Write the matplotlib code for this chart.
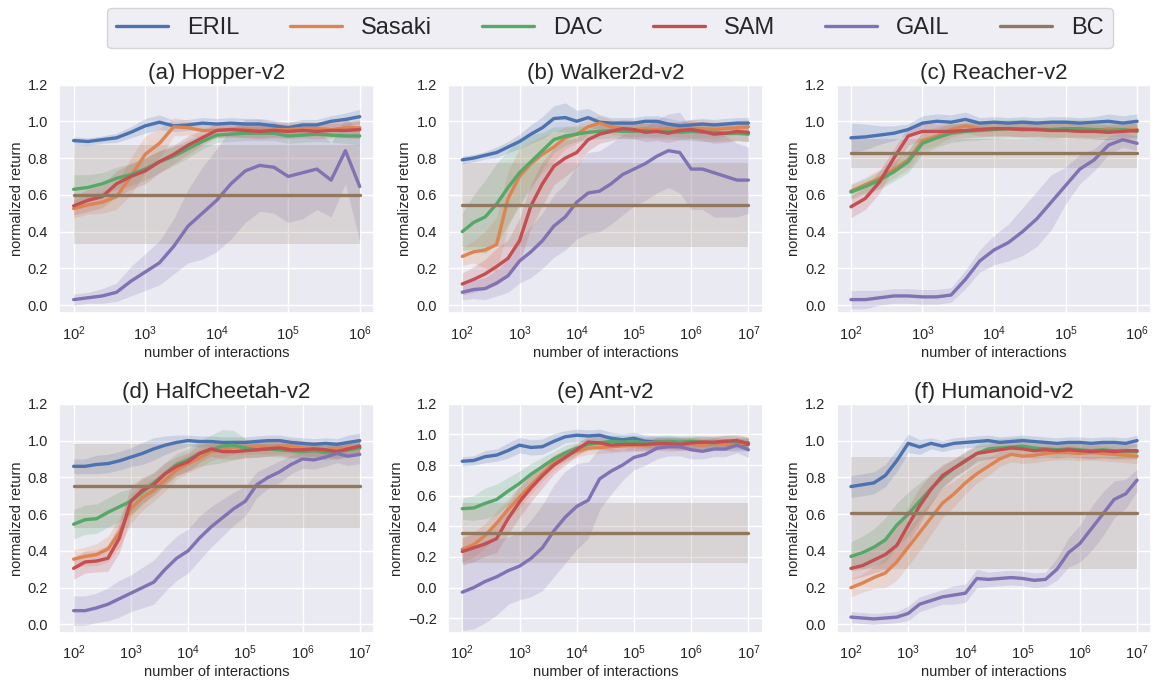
import numpy as np
import matplotlib
matplotlib.use('Agg')
import matplotlib.pyplot as plt
import seaborn as sns

sns.set_theme(style='darkgrid')
plt.rcParams['font.family'] = ['Liberation Sans', 'DejaVu Sans']

methods = ['ERIL', 'Sasaki', 'DAC', 'SAM', 'GAIL', 'BC']
colors = sns.color_palette('deep')[:6]
titles = ['(a) Hopper-v2', '(b) Walker2d-v2', '(c) Reacher-v2',
          '(d) HalfCheetah-v2', '(e) Ant-v2', '(f) Humanoid-v2']

# log10(number of interactions) of each sample
exp_short = np.round(np.arange(2.0, 6.01, 0.2), 1)   # 10^2 .. 10^6
exp_long = np.round(np.arange(2.0, 7.01, 0.2), 1)    # 10^2 .. 10^7

# ---- Hopper-v2 ----
hop_eril = [0.895, 0.89, 0.90, 0.91, 0.94, 0.975, 0.995, 0.975, 0.98, 0.99, 0.985, 0.99, 0.985, 0.985, 0.975, 0.965, 0.98, 0.98, 1.0, 1.01, 1.025]
hop_eril_sd = [0.02, 0.02, 0.02, 0.025, 0.03, 0.04, 0.04, 0.03, 0.03, 0.03, 0.03, 0.03, 0.03, 0.03, 0.03, 0.03, 0.03, 0.03, 0.03, 0.035, 0.04]
hop_sasaki = [0.525, 0.545, 0.56, 0.59, 0.70, 0.82, 0.88, 0.97, 0.965, 0.95, 0.95, 0.955, 0.955, 0.95, 0.955, 0.955, 0.96, 0.96, 0.955, 0.965, 0.965]
hop_sasaki_sd = [0.05, 0.05, 0.06, 0.07, 0.10, 0.10, 0.08, 0.05, 0.04, 0.04, 0.04, 0.04, 0.04, 0.04, 0.04, 0.04, 0.04, 0.04, 0.04, 0.04, 0.04]
hop_dac = [0.63, 0.64, 0.66, 0.69, 0.71, 0.74, 0.78, 0.81, 0.85, 0.89, 0.925, 0.93, 0.935, 0.935, 0.935, 0.92, 0.925, 0.93, 0.925, 0.92, 0.92]
hop_dac_sd = [0.08, 0.07, 0.06, 0.06, 0.06, 0.06, 0.06, 0.05, 0.05, 0.04, 0.04, 0.04, 0.04, 0.04, 0.04, 0.04, 0.04, 0.04, 0.04, 0.04, 0.05]
hop_sam = [0.54, 0.57, 0.59, 0.66, 0.70, 0.73, 0.78, 0.82, 0.87, 0.91, 0.95, 0.955, 0.95, 0.945, 0.95, 0.945, 0.95, 0.945, 0.95, 0.95, 0.955]
hop_sam_sd = [0.05, 0.06, 0.06, 0.07, 0.07, 0.07, 0.06, 0.05, 0.05, 0.04, 0.04, 0.04, 0.04, 0.04, 0.04, 0.04, 0.04, 0.04, 0.04, 0.04, 0.05]
hop_gail = [0.03, 0.04, 0.05, 0.07, 0.13, 0.18, 0.23, 0.32, 0.43, 0.50, 0.57, 0.66, 0.73, 0.76, 0.75, 0.70, 0.72, 0.74, 0.68, 0.84, 0.645]
hop_gail_sd = [0.03, 0.03, 0.04, 0.05, 0.08, 0.10, 0.12, 0.15, 0.20, 0.25, 0.28, 0.30, 0.28, 0.25, 0.25, 0.25, 0.25, 0.22, 0.20, 0.18, 0.30]
hop_bc, hop_bc_sd = 0.60, 0.27

# ---- Walker2d-v2 ----
wal_eril = [0.79, 0.80, 0.815, 0.83, 0.86, 0.89, 0.93, 0.965, 1.015, 1.02, 1.0, 1.02, 0.995, 0.99, 0.99, 0.99, 1.0, 1.0, 0.985, 0.975, 0.98, 0.985, 0.98, 0.985, 0.99, 0.99]
wal_eril_sd = [0.02, 0.02, 0.02, 0.03, 0.03, 0.04, 0.05, 0.06, 0.07, 0.08, 0.06, 0.05, 0.04, 0.03, 0.03, 0.03, 0.03, 0.03, 0.03, 0.03, 0.03, 0.03, 0.03, 0.03, 0.03, 0.03]
wal_sasaki = [0.265, 0.29, 0.30, 0.33, 0.58, 0.70, 0.77, 0.82, 0.86, 0.91, 0.93, 0.97, 0.99, 0.97, 0.96, 0.955, 0.96, 0.955, 0.96, 0.955, 0.96, 0.96, 0.955, 0.96, 0.965, 0.97]
wal_sasaki_sd = [0.05, 0.06, 0.10, 0.15, 0.15, 0.15, 0.12, 0.10, 0.08, 0.06, 0.05, 0.04, 0.04, 0.04, 0.04, 0.04, 0.04, 0.04, 0.04, 0.04, 0.05, 0.05, 0.05, 0.04, 0.04, 0.04]
wal_dac = [0.40, 0.45, 0.48, 0.55, 0.64, 0.72, 0.78, 0.84, 0.90, 0.92, 0.93, 0.94, 0.945, 0.95, 0.945, 0.945, 0.95, 0.945, 0.945, 0.94, 0.945, 0.94, 0.94, 0.935, 0.935, 0.93]
wal_dac_sd = [0.10, 0.15, 0.20, 0.22, 0.20, 0.18, 0.15, 0.10, 0.07, 0.05, 0.04, 0.04, 0.04, 0.04, 0.04, 0.04, 0.04, 0.04, 0.04, 0.04, 0.05, 0.05, 0.05, 0.04, 0.04, 0.04]
wal_sam = [0.115, 0.14, 0.17, 0.21, 0.255, 0.35, 0.54, 0.66, 0.755, 0.80, 0.83, 0.90, 0.93, 0.945, 0.96, 0.955, 0.94, 0.945, 0.935, 0.95, 0.955, 0.945, 0.93, 0.935, 0.945, 0.94]
wal_sam_sd = [0.06, 0.07, 0.08, 0.10, 0.10, 0.12, 0.12, 0.12, 0.10, 0.10, 0.08, 0.06, 0.05, 0.05, 0.05, 0.05, 0.05, 0.05, 0.05, 0.05, 0.05, 0.05, 0.05, 0.05, 0.05, 0.05]
wal_gail = [0.07, 0.085, 0.09, 0.12, 0.16, 0.24, 0.29, 0.35, 0.43, 0.48, 0.56, 0.61, 0.62, 0.66, 0.71, 0.74, 0.77, 0.81, 0.84, 0.83, 0.74, 0.74, 0.72, 0.70, 0.68, 0.68]
wal_gail_sd = [0.04, 0.05, 0.06, 0.07, 0.09, 0.12, 0.14, 0.15, 0.17, 0.18, 0.20, 0.22, 0.22, 0.22, 0.22, 0.20, 0.20, 0.20, 0.20, 0.22, 0.22, 0.22, 0.24, 0.22, 0.20, 0.18]
wal_bc, wal_bc_sd = 0.545, 0.23

# ---- Reacher-v2 ----
rea_eril = [0.91, 0.915, 0.925, 0.935, 0.955, 0.99, 1.0, 0.995, 1.01, 0.99, 0.995, 0.99, 0.995, 0.99, 0.995, 0.995, 0.99, 0.995, 1.0, 0.99, 1.0]
rea_eril_sd = [0.08, 0.07, 0.05, 0.04, 0.03, 0.04, 0.04, 0.04, 0.04, 0.03, 0.03, 0.03, 0.03, 0.03, 0.03, 0.03, 0.03, 0.03, 0.04, 0.04, 0.04]
rea_sasaki = [0.62, 0.655, 0.69, 0.74, 0.79, 0.895, 0.92, 0.955, 0.975, 0.96, 0.96, 0.96, 0.955, 0.96, 0.955, 0.955, 0.955, 0.95, 0.96, 0.955, 0.955]
rea_sasaki_sd = [0.04, 0.04, 0.05, 0.05, 0.05, 0.05, 0.05, 0.04, 0.04, 0.04, 0.04, 0.04, 0.04, 0.04, 0.04, 0.04, 0.04, 0.04, 0.04, 0.04, 0.04]
rea_dac = [0.615, 0.645, 0.68, 0.725, 0.78, 0.88, 0.91, 0.935, 0.945, 0.95, 0.955, 0.96, 0.96, 0.955, 0.955, 0.96, 0.96, 0.955, 0.95, 0.955, 0.945]
rea_dac_sd = [0.04, 0.04, 0.05, 0.05, 0.06, 0.06, 0.05, 0.05, 0.05, 0.05, 0.05, 0.05, 0.05, 0.05, 0.05, 0.05, 0.05, 0.05, 0.05, 0.05, 0.04]
rea_sam = [0.535, 0.58, 0.67, 0.80, 0.92, 0.945, 0.945, 0.945, 0.95, 0.955, 0.96, 0.96, 0.955, 0.955, 0.95, 0.95, 0.945, 0.945, 0.94, 0.945, 0.95]
rea_sam_sd = [0.06, 0.06, 0.06, 0.05, 0.05, 0.05, 0.04, 0.04, 0.04, 0.04, 0.04, 0.04, 0.04, 0.04, 0.04, 0.04, 0.04, 0.04, 0.04, 0.04, 0.04]
rea_gail = [0.03, 0.03, 0.04, 0.05, 0.05, 0.045, 0.045, 0.055, 0.14, 0.24, 0.30, 0.34, 0.40, 0.47, 0.56, 0.65, 0.74, 0.79, 0.87, 0.90, 0.88]
rea_gail_sd = [0.05, 0.05, 0.04, 0.04, 0.04, 0.04, 0.04, 0.04, 0.05, 0.06, 0.08, 0.10, 0.13, 0.15, 0.15, 0.10, 0.08, 0.06, 0.05, 0.04, 0.04]
rea_bc, rea_bc_sd = 0.825, 0.08

# ---- HalfCheetah-v2 ----
hc_eril = [0.86, 0.86, 0.87, 0.875, 0.89, 0.91, 0.93, 0.955, 0.975, 0.99, 1.0, 0.995, 0.995, 0.99, 0.99, 0.99, 0.995, 1.0, 1.0, 0.99, 0.985, 0.98, 0.985, 0.98, 0.99, 1.0]
hc_eril_sd = [0.04, 0.04, 0.05, 0.05, 0.05, 0.05, 0.06, 0.06, 0.05, 0.04, 0.03, 0.03, 0.03, 0.03, 0.03, 0.03, 0.03, 0.03, 0.03, 0.03, 0.03, 0.03, 0.03, 0.03, 0.04, 0.04]
hc_sasaki = [0.355, 0.37, 0.38, 0.41, 0.50, 0.63, 0.69, 0.73, 0.785, 0.84, 0.875, 0.905, 0.94, 0.95, 0.965, 0.965, 0.97, 0.965, 0.97, 0.97, 0.96, 0.955, 0.95, 0.955, 0.96, 0.96]
hc_sasaki_sd = [0.05, 0.05, 0.06, 0.07, 0.08, 0.08, 0.07, 0.06, 0.06, 0.05, 0.05, 0.05, 0.05, 0.04, 0.04, 0.04, 0.04, 0.04, 0.04, 0.04, 0.04, 0.04, 0.04, 0.04, 0.04, 0.04]
hc_dac = [0.545, 0.57, 0.575, 0.61, 0.64, 0.67, 0.72, 0.77, 0.82, 0.87, 0.895, 0.93, 0.95, 0.97, 0.975, 0.96, 0.95, 0.955, 0.95, 0.945, 0.94, 0.945, 0.935, 0.94, 0.95, 0.96]
hc_dac_sd = [0.08, 0.08, 0.08, 0.08, 0.08, 0.07, 0.07, 0.06, 0.06, 0.06, 0.06, 0.07, 0.08, 0.09, 0.08, 0.05, 0.04, 0.04, 0.04, 0.04, 0.04, 0.04, 0.04, 0.04, 0.04, 0.04]
hc_sam = [0.305, 0.34, 0.345, 0.36, 0.47, 0.67, 0.73, 0.76, 0.82, 0.86, 0.885, 0.93, 0.955, 0.94, 0.94, 0.945, 0.95, 0.955, 0.96, 0.95, 0.95, 0.955, 0.95, 0.94, 0.955, 0.97]
hc_sam_sd = [0.06, 0.06, 0.06, 0.07, 0.08, 0.08, 0.07, 0.06, 0.06, 0.05, 0.05, 0.05, 0.04, 0.04, 0.04, 0.04, 0.04, 0.04, 0.04, 0.04, 0.04, 0.04, 0.04, 0.04, 0.04, 0.04]
hc_gail = [0.075, 0.075, 0.09, 0.11, 0.14, 0.17, 0.20, 0.23, 0.30, 0.36, 0.40, 0.47, 0.53, 0.58, 0.63, 0.67, 0.76, 0.80, 0.83, 0.87, 0.90, 0.895, 0.91, 0.93, 0.915, 0.925]
hc_gail_sd = [0.08, 0.08, 0.08, 0.09, 0.10, 0.10, 0.11, 0.12, 0.12, 0.12, 0.12, 0.12, 0.11, 0.10, 0.09, 0.08, 0.07, 0.06, 0.06, 0.05, 0.05, 0.05, 0.05, 0.05, 0.05, 0.05]
hc_bc, hc_bc_sd = 0.755, 0.228

# ---- Ant-v2 ----
ant_eril = [0.825, 0.83, 0.855, 0.865, 0.895, 0.93, 0.915, 0.92, 0.955, 0.985, 0.995, 0.99, 0.995, 0.975, 0.965, 0.975, 0.955, 0.95, 0.95, 0.945, 0.94, 0.935, 0.94, 0.935, 0.93, 0.935]
ant_eril_sd = [0.03, 0.03, 0.04, 0.04, 0.05, 0.05, 0.05, 0.05, 0.05, 0.04, 0.04, 0.04, 0.04, 0.04, 0.04, 0.04, 0.04, 0.04, 0.04, 0.04, 0.04, 0.04, 0.04, 0.04, 0.04, 0.04]
ant_sasaki = [0.25, 0.28, 0.34, 0.42, 0.51, 0.59, 0.67, 0.745, 0.815, 0.86, 0.89, 0.91, 0.915, 0.92, 0.925, 0.93, 0.93, 0.935, 0.93, 0.935, 0.935, 0.93, 0.935, 0.935, 0.94, 0.94]
ant_sasaki_sd = [0.08, 0.08, 0.08, 0.08, 0.07, 0.07, 0.06, 0.05, 0.05, 0.04, 0.04, 0.04, 0.04, 0.04, 0.04, 0.04, 0.04, 0.04, 0.04, 0.04, 0.04, 0.04, 0.04, 0.04, 0.04, 0.04]
ant_dac = [0.515, 0.52, 0.55, 0.575, 0.63, 0.68, 0.74, 0.79, 0.84, 0.88, 0.91, 0.935, 0.945, 0.955, 0.95, 0.955, 0.945, 0.95, 0.955, 0.95, 0.955, 0.95, 0.945, 0.955, 0.95, 0.945]
ant_dac_sd = [0.07, 0.08, 0.10, 0.10, 0.09, 0.08, 0.07, 0.06, 0.05, 0.05, 0.04, 0.04, 0.04, 0.04, 0.04, 0.04, 0.04, 0.04, 0.04, 0.04, 0.04, 0.04, 0.04, 0.04, 0.04, 0.04]
ant_sam = [0.235, 0.26, 0.285, 0.32, 0.45, 0.56, 0.65, 0.73, 0.80, 0.85, 0.90, 0.95, 0.945, 0.93, 0.935, 0.935, 0.935, 0.94, 0.94, 0.935, 0.945, 0.95, 0.95, 0.955, 0.96, 0.94]
ant_sam_sd = [0.09, 0.09, 0.08, 0.09, 0.10, 0.10, 0.09, 0.08, 0.06, 0.05, 0.04, 0.04, 0.04, 0.04, 0.04, 0.04, 0.04, 0.04, 0.04, 0.04, 0.04, 0.04, 0.04, 0.04, 0.04, 0.04]
ant_gail = [-0.03, 0.0, 0.04, 0.07, 0.11, 0.14, 0.19, 0.26, 0.37, 0.46, 0.53, 0.57, 0.71, 0.76, 0.80, 0.85, 0.87, 0.91, 0.92, 0.92, 0.90, 0.89, 0.905, 0.905, 0.93, 0.90]
ant_gail_sd = [0.25, 0.27, 0.27, 0.25, 0.22, 0.22, 0.25, 0.28, 0.30, 0.30, 0.28, 0.25, 0.20, 0.15, 0.10, 0.08, 0.07, 0.07, 0.06, 0.06, 0.06, 0.05, 0.05, 0.05, 0.05, 0.05]
ant_bc, ant_bc_sd = 0.355, 0.195

# ---- Humanoid-v2 ----
hum_eril = [0.75, 0.76, 0.77, 0.81, 0.89, 0.985, 0.965, 0.985, 0.97, 0.985, 0.99, 0.995, 1.0, 0.99, 0.995, 1.0, 0.995, 0.99, 0.985, 0.99, 0.99, 0.985, 0.99, 0.99, 0.985, 1.0]
hum_eril_sd = [0.06, 0.06, 0.06, 0.06, 0.06, 0.05, 0.04, 0.03, 0.03, 0.03, 0.03, 0.03, 0.03, 0.03, 0.03, 0.03, 0.03, 0.03, 0.03, 0.03, 0.03, 0.03, 0.03, 0.03, 0.03, 0.03]
hum_sasaki = [0.20, 0.225, 0.255, 0.28, 0.34, 0.42, 0.50, 0.58, 0.66, 0.71, 0.77, 0.82, 0.86, 0.90, 0.925, 0.915, 0.92, 0.93, 0.935, 0.935, 0.93, 0.935, 0.93, 0.925, 0.92, 0.915]
hum_sasaki_sd = [0.05, 0.05, 0.06, 0.08, 0.10, 0.10, 0.10, 0.09, 0.08, 0.07, 0.06, 0.05, 0.05, 0.04, 0.04, 0.04, 0.04, 0.04, 0.04, 0.04, 0.04, 0.04, 0.04, 0.04, 0.04, 0.04]
hum_dac = [0.37, 0.39, 0.42, 0.46, 0.54, 0.60, 0.67, 0.74, 0.80, 0.85, 0.89, 0.93, 0.955, 0.96, 0.965, 0.97, 0.96, 0.955, 0.95, 0.955, 0.95, 0.945, 0.95, 0.945, 0.94, 0.94]
hum_dac_sd = [0.08, 0.09, 0.10, 0.12, 0.12, 0.12, 0.10, 0.08, 0.06, 0.05, 0.05, 0.05, 0.05, 0.05, 0.05, 0.05, 0.04, 0.04, 0.04, 0.04, 0.04, 0.04, 0.04, 0.04, 0.04, 0.04]
hum_sam = [0.305, 0.32, 0.35, 0.38, 0.43, 0.54, 0.645, 0.735, 0.81, 0.85, 0.89, 0.93, 0.94, 0.95, 0.96, 0.955, 0.945, 0.95, 0.945, 0.95, 0.945, 0.94, 0.945, 0.94, 0.945, 0.945]
hum_sam_sd = [0.06, 0.06, 0.07, 0.08, 0.10, 0.10, 0.10, 0.08, 0.06, 0.05, 0.05, 0.04, 0.04, 0.04, 0.04, 0.04, 0.04, 0.04, 0.04, 0.04, 0.04, 0.04, 0.04, 0.04, 0.04, 0.04]
hum_gail = [0.04, 0.035, 0.03, 0.035, 0.04, 0.06, 0.11, 0.13, 0.15, 0.16, 0.17, 0.25, 0.245, 0.25, 0.255, 0.25, 0.24, 0.245, 0.30, 0.39, 0.44, 0.52, 0.60, 0.68, 0.71, 0.785]
hum_gail_sd = [0.03, 0.03, 0.03, 0.03, 0.03, 0.04, 0.04, 0.04, 0.04, 0.05, 0.05, 0.05, 0.04, 0.04, 0.04, 0.04, 0.04, 0.04, 0.06, 0.08, 0.10, 0.12, 0.12, 0.10, 0.08, 0.06]
hum_bc, hum_bc_sd = 0.605, 0.305

panels = [
    (exp_short, [hop_eril, hop_sasaki, hop_dac, hop_sam, hop_gail],
     [hop_eril_sd, hop_sasaki_sd, hop_dac_sd, hop_sam_sd, hop_gail_sd], hop_bc, hop_bc_sd, (-0.045, 1.2)),
    (exp_long, [wal_eril, wal_sasaki, wal_dac, wal_sam, wal_gail],
     [wal_eril_sd, wal_sasaki_sd, wal_dac_sd, wal_sam_sd, wal_gail_sd], wal_bc, wal_bc_sd, (-0.045, 1.2)),
    (exp_short, [rea_eril, rea_sasaki, rea_dac, rea_sam, rea_gail],
     [rea_eril_sd, rea_sasaki_sd, rea_dac_sd, rea_sam_sd, rea_gail_sd], rea_bc, rea_bc_sd, (-0.045, 1.2)),
    (exp_long, [hc_eril, hc_sasaki, hc_dac, hc_sam, hc_gail],
     [hc_eril_sd, hc_sasaki_sd, hc_dac_sd, hc_sam_sd, hc_gail_sd], hc_bc, hc_bc_sd, (-0.045, 1.2)),
    (exp_long, [ant_eril, ant_sasaki, ant_dac, ant_sam, ant_gail],
     [ant_eril_sd, ant_sasaki_sd, ant_dac_sd, ant_sam_sd, ant_gail_sd], ant_bc, ant_bc_sd, (-0.295, 1.2)),
    (exp_long, [hum_eril, hum_sasaki, hum_dac, hum_sam, hum_gail],
     [hum_eril_sd, hum_sasaki_sd, hum_dac_sd, hum_sam_sd, hum_gail_sd], hum_bc, hum_bc_sd, (-0.045, 1.2)),
]

fig, axes = plt.subplots(2, 3, figsize=(11.63, 6.87), dpi=100)
fig.subplots_adjust(left=0.051, right=0.99, top=0.877, bottom=0.079, wspace=0.235, hspace=0.395)

for ax, title, (ex, means, sds, bc, bc_sd, ylim) in zip(axes.flat, titles, panels):
    x = 10.0 ** ex
    for m, s, c, name in zip(means, sds, colors, methods):
        m = np.array(m)
        s = np.array(s)
        ax.fill_between(x, m - s, m + s, color=c, alpha=0.2, lw=0)
        ax.plot(x, m, color=c, lw=2.4, label=name)
    xb = [x[0], x[-1]]
    ax.fill_between(xb, [bc - bc_sd] * 2, [bc + bc_sd] * 2, color=colors[5], alpha=0.2, lw=0)
    ax.plot(xb, [bc, bc], color=colors[5], lw=2.4, label='BC')
    ax.set_xscale('log')
    ax.set_ylim(*ylim)
    ax.set_yticks(np.arange(-0.2 if ylim[0] < -0.2 else 0.0, 1.21, 0.2))
    ax.minorticks_off()
    ax.set_title(title, fontsize=16, pad=4)
    ax.set_xlabel('number of interactions', fontsize=10.5, labelpad=2)
    ax.set_ylabel('normalized return', fontsize=10.5, labelpad=3)
    ax.tick_params(labelsize=10.5, pad=2)

handles, labels = axes[0, 0].get_legend_handles_labels()
fig.legend(handles, labels, loc='center', ncol=6, mode='expand',
           bbox_to_anchor=(107 / 1163, 1 - 49 / 687, 1006 / 1163, 42 / 687),
           fontsize=17, handlelength=2.2, frameon=True, borderaxespad=0)

fig.savefig('out.png', dpi=100)
